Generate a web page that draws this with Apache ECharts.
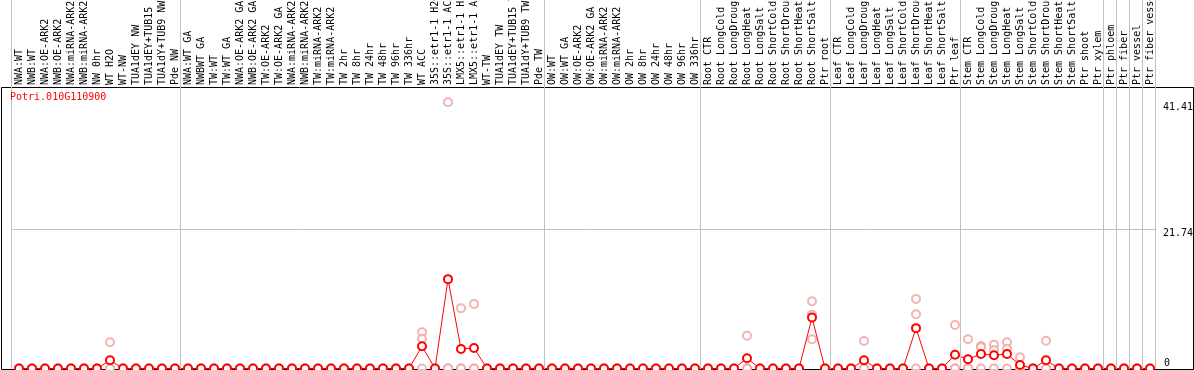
<!DOCTYPE html>
<html>
<head>
<meta charset="utf-8">
<script src="https://cdn.jsdelivr.net/npm/echarts@6/dist/echarts.min.js"></script>
<style>
html,body{margin:0;padding:0;background:#fff;}
#chart{width:1194px;height:370px;}
</style>
</head>
<body>
<div id="chart"></div>
<script>
// ---------------- data ----------------
const geneId = 'Potri.010G110900';

const samples = [
  // group 1 (13)
  'NWA:WT','NWB:WT','NWA:OE-ARK2','NWB:OE-ARK2','NWA:miRNA-ARK2','NWB:miRNA-ARK2','NW 0hr','WT H2O','WT-NW',
  'TUA1dEY NW','TUA1dEY+TUB15 NW','TUA1dY+TUB9 NW','Pde NW',
  // group 2 (28)
  'NWA:WT GA','NWBWT GA','TW:WT','TW:WT GA','NWA:OE-ARK2 GA','NWB:OE-ARK2 GA','TW:OE-ARK2','TW:OE-ARK2 GA',
  'NWA:miRNA-ARK2','NWB:miRNA-ARK2','TW:miRNA-ARK2','TW:miRNA-ARK2','TW 2hr','TW 8hr','TW 24hr','TW 48hr',
  'TW 96hr','TW 336hr','WT ACC','35S::etr1-1 H2O','35S::etr1-1 ACC','LMX5::etr1-1 H2O','LMX5::etr1-1 ACC',
  'WT-TW','TUA1dEY TW','TUA1dEY+TUB15 TW','TUA1dY+TUB9 TW','Pde TW',
  // group 3 (12)
  'OW:WT','OW:WT GA','OW:OE-ARK2','OW:OE-ARK2 GA','OW:miRNA-ARK2','OW:miRNA-ARK2','OW 2hr','OW 8hr',
  'OW 24hr','OW 48hr','OW 96hr','OW 336hr',
  // group 4 (10)
  'Root CTR','Root LongCold','Root LongDrought','Root LongHeat','Root LongSalt','Root ShortCold',
  'Root ShortDrought','Root ShortHeat','Root ShortSalt','Ptr root',
  // group 5 (10)
  'Leaf CTR','Leaf LongCold','Leaf LongDrought','Leaf LongHeat','Leaf LongSalt','Leaf ShortCold',
  'Leaf ShortDrought','Leaf ShortHeat','Leaf ShortSalt','Ptr leaf',
  // group 6 (11)
  'Stem CTR','Stem LongCold','Stem LongDrought','Stem LongHeat','Stem LongSalt','Stem ShortCold',
  'Stem ShortDrought','Stem ShortHeat','Stem ShortSalt','Ptr shoot','Ptr xylem',
  // single groups
  'Ptr phloem','Ptr fiber','Ptr vessel','Ptr fiber vessel'
];

const groupSizes = [13, 28, 12, 10, 10, 11, 1, 1, 1, 1];

// mean expression (red line)
const meanValues = [
  0,0,0,0,0,0,0,1.28,0,0,0,0,0,
  0,0,0,0,0,0,0,0,0,0,0,0,0,0,0,0,0,0, 3.46,0,13.9,3.04,3.19, 0,0,0,0,0,
  0,0,0,0,0,0,0,0,0,0,0,0,
  0,0,0,1.59,0,0,0,0,7.92,0,
  0,0,1.28,0,0,0,6.28,0,0,2.15,
  1.43,2.26,2.06,2.26,0.55,0,1.28,0,0,0,0,
  0,0,0,0
];

// replicate values (pink circles)
const rep1 = [
  0,0,0,0,0,0,0,4.08,0,0,0,0,0,
  0,0,0,0,0,0,0,0,0,0,0,0,0,0,0,0,0,0, 5.64,0,41.41,9.38,10.05, 0,0,0,0,0,
  0,0,0,0,0,0,0,0,0,0,0,0,
  0,0,0,5.1,0,0,0,0,10.47,0,
  0,0,4.29,0,0,0,10.83,0,0,6.78,
  4.55,3.5,3.71,4.08,1.75,0,4.33,0,0,0,0,
  0,0,0,0
];
const rep2 = [
  0,0,0,0,0,0,0,0,0,0,0,0,0,
  0,0,0,0,0,0,0,0,0,0,0,0,0,0,0,0,0,0, 4.64,0,0,0,0, 0,0,0,0,0,
  0,0,0,0,0,0,0,0,0,0,0,0,
  0,0,0,0,0,0,0,0,8.38,0,
  0,0,0,0,0,0,8.45,0,0,0,
  0,3.3,2.88,3.09,0,0,0,0,0,0,0,
  0,0,0,0
];
const rep3 = [
  0,0,0,0,0,0,0,0,0,0,0,0,0,
  0,0,0,0,0,0,0,0,0,0,0,0,0,0,0,0,0,0, 0,0,0,0,0, 0,0,0,0,0,
  0,0,0,0,0,0,0,0,0,0,0,0,
  0,0,0,0,0,0,0,0,4.55,0,
  0,0,0,0,0,0,0,0,0,0,
  0,0,0,0,0,0,0,0,0,0,0,
  0,0,0,0
];

const yMax = 43.48;
const midValue = 21.74;
const maxLabel = 41.41;

// ---------------- chart ----------------
const MONO = 'DejaVu Sans Mono';
const RED = '#ff0000';
const PINK = '#f0a0a0';
const GRAY = '#c0c0c0';

const boundaries = [0];
groupSizes.forEach(s => boundaries.push(boundaries[boundaries.length - 1] + s));

const repSeries = [rep1, rep2, rep3].map(r => ({
  type: 'scatter',
  xAxisIndex: 0, yAxisIndex: 0,
  data: r,
  symbol: 'emptyCircle',
  symbolSize: 8,
  clip: false,
  itemStyle: { color: PINK, borderColor: PINK, borderWidth: 1.5 },
  emphasis: { disabled: true },
  silent: true,
  z: 3
}));

const option = {
  animation: false,
  backgroundColor: '#fff',
  title: {
    text: geneId,
    left: 10, top: 92, padding: 0,
    textStyle: { color: RED, fontSize: 10, fontFamily: MONO, fontWeight: 'normal' }
  },
  grid: [
    { left: 12.5, top: 89, width: 1144, height: 279.5, containLabel: false, outerBoundsMode: 'none' },
    { left: 11.5, top: 0, width: 1144, bottom: 1, containLabel: false, outerBoundsMode: 'none' },
    { left: 1.5, top: 87.5, right: 0.5, bottom: 0.5, show: true, borderColor: '#000', borderWidth: 1,
      backgroundColor: 'transparent', outerBoundsMode: 'none' }
  ],
  xAxis: [
    {
      gridIndex: 0, type: 'category', position: 'top', data: samples, boundaryGap: true,
      axisLine: { show: false }, axisTick: { show: false }, splitLine: { show: false },
      axisLabel: { rotate: 90, interval: 0, margin: 4, fontFamily: MONO, fontSize: 10, color: '#000', hideOverlap: false }
    },
    { gridIndex: 1, type: 'value', min: 0, max: samples.length, show: false },
    { gridIndex: 2, type: 'value', min: 0, max: 1, show: false }
  ],
  yAxis: [
    {
      gridIndex: 0, type: 'value', position: 'right', min: 0, max: yMax,
      axisLine: { show: false }, axisTick: { show: false }, splitLine: { show: false },
      axisLabel: { customValues: [midValue, maxLabel], verticalAlign: 'top', margin: 6.5,
        fontFamily: MONO, fontSize: 10, color: '#000', showMinLabel: true, showMaxLabel: true }
    },
    {
      gridIndex: 0, type: 'value', position: 'right', min: 0, max: yMax,
      axisLine: { show: false }, axisTick: { show: false }, splitLine: { show: false },
      axisLabel: { customValues: [0], verticalAlign: 'bottom', margin: 7.5,
        fontFamily: MONO, fontSize: 10, color: '#000', showMinLabel: true }
    },
    { gridIndex: 1, type: 'value', min: 0, max: 1, show: false },
    { gridIndex: 2, type: 'value', min: 0, max: 1, show: false }
  ],
  series: [
    {
      // group separators
      type: 'line', xAxisIndex: 1, yAxisIndex: 2,
      data: [[0, 0]], symbol: 'none', lineStyle: { opacity: 0 }, silent: true, z: 1,
      markLine: {
        silent: true, symbol: ['none', 'none'], label: { show: false },
        lineStyle: { color: GRAY, type: 'solid', width: 1 },
        emphasis: { disabled: true },
        data: boundaries.map(b => ({ xAxis: b }))
      }
    },
    ...repSeries,
    {
      type: 'line', xAxisIndex: 0, yAxisIndex: 0,
      data: meanValues,
      symbol: 'emptyCircle', symbolSize: 8, showAllSymbol: true, clip: false,
      lineStyle: { color: RED, width: 1 },
      itemStyle: { color: RED, borderColor: RED, borderWidth: 1.5 },
      emphasis: { disabled: true },
      silent: true,
      z: 4,
      markLine: {
        silent: true, symbol: ['none', 'none'], label: { show: false },
        lineStyle: { color: GRAY, type: 'solid', width: 1 },
        emphasis: { disabled: true },
        data: [{ yAxis: midValue }]
      }
    }
  ]
};

const chart = echarts.init(document.getElementById('chart'), null, { renderer: 'canvas' });
chart.setOption(option);
</script>
</body>
</html>
